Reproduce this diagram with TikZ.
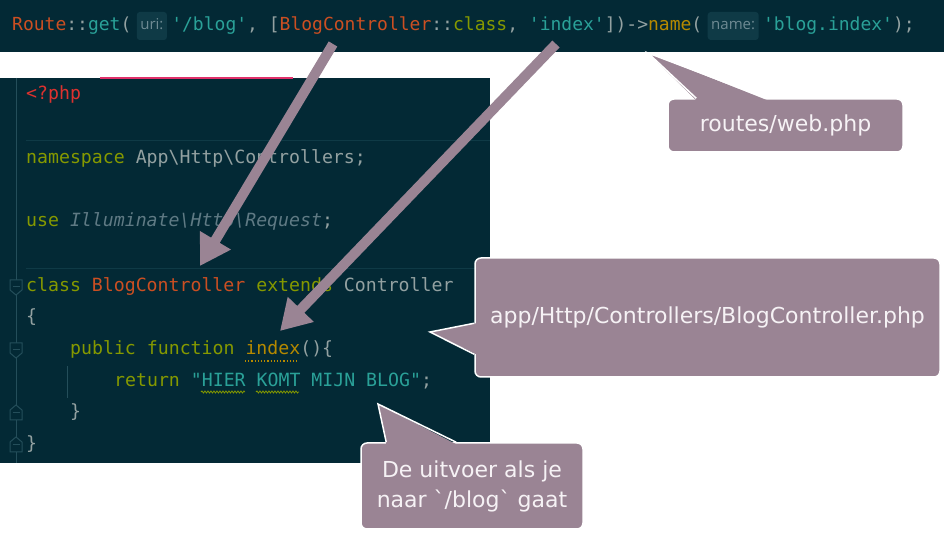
\documentclass[tikz,border=0pt]{standalone}
\usepackage{fontspec}
\setmonofont{DejaVu Sans Mono}
\newfontfamily\notefont{DejaVu Sans}[Ligatures=TeXOff]
\newfontfamily\hintfont{Open Sans}
\usetikzlibrary{positioning, arrows.meta, calc, decorations.pathmorphing}

\definecolor{codebg}{HTML}{032935}
\definecolor{codeorange}{HTML}{CB4F22}
\definecolor{codeteal}{HTML}{2AA198}
\definecolor{codegreen}{HTML}{859900}
\definecolor{codeyellow}{HTML}{B58900}
\definecolor{codered}{HTML}{DC322F}
\definecolor{codegrey}{HTML}{93A1A1}
\definecolor{codeitalic}{HTML}{5F7A84}
\definecolor{hintbg}{HTML}{0F3A46}
\definecolor{hinttext}{HTML}{6E8A93}
\definecolor{gutterline}{HTML}{244E5A}
\definecolor{calloutfill}{HTML}{9A8494}
\definecolor{callouttext}{HTML}{F6F2F5}
\definecolor{tabpink}{HTML}{E0306A}

\newcommand{\tO}[1]{\textcolor{codeorange}{#1}}
\newcommand{\tT}[1]{\textcolor{codeteal}{#1}}
\newcommand{\tL}[1]{\textcolor{codegreen}{#1}}
\newcommand{\tY}[1]{\textcolor{codeyellow}{#1}}
\newcommand{\tG}[1]{\textcolor{codegrey}{#1}}
\newcommand{\tI}[1]{\textcolor{codeitalic}{\itshape #1}}
\newcommand{\bs}{\textbackslash}

\begin{document}
\begin{tikzpicture}[
		x=1pt, y=-1pt,
		>=Stealth,
		code/.style={inner sep=0pt, anchor=west, text height=13pt, text depth=4pt,
			font=\ttfamily\fontsize{18.2}{20}\selectfont, text=codegrey},
		topcode/.style={code, font=\ttfamily\fontsize{18}{20}\selectfont},
		hint/.style={fill=hintbg, rounded corners=3pt, inner xsep=3.5pt, inner ysep=0pt,
			minimum height=28pt, text height=11pt, text depth=3pt,
			font=\hintfont\fontsize{15}{17}\selectfont, text=hinttext},
		callout/.style={fill=calloutfill, draw=white, line width=1.5pt, rounded corners=6pt,
			align=center, text=callouttext, font=\notefont\fontsize{22}{30}\selectfont},
		pointer/.style={draw=calloutfill, line width=10pt, -{Triangle[length=30pt, width=34pt]}},
		gutter/.style={draw=gutterline, line width=1pt}
		]
		\useasboundingbox (0,0) rectangle (946,534);
		
		% ==========================================
		% ROUTE LINE (routes/web.php)
		% ==========================================
		\fill[codebg] (0,0) rectangle (944,52);
		
		\node[topcode] (getcall) at (12,26) {\tO{Route}::\tT{get}(};
		\node[hint, right=5pt of getcall] (urihint) {uri:};
		\node[topcode, right=4pt of urihint] (action)
			{\tT{'/blog'}, [\tO{BlogController}::\tL{class}, \tT{'index'}])->\tY{name}(};
		\node[hint, right=5pt of action] (namehint) {name:};
		\node[topcode, right=4pt of namehint] (routename) {\tT{'blog.index'});};
		
		% ==========================================
		% CONTROLLER FILE
		% ==========================================
		\fill[codebg] (0,78) rectangle (490,463);
		\draw[tabpink, line width=2pt] (100,78) -- (293,78);
		\draw[gutter] (16,78) -- (16,463);
		\draw[hintbg, line width=1pt] (26,141) -- (490,141);
		\draw[hintbg, line width=1pt] (26,269) -- (490,269);
		\draw[gutter] (67,366) -- (67,398);
		
		% fold markers
		\foreach \y/\d in {287/1, 350/1, 413/-1, 445/-1}{
			\filldraw[gutter, fill=codebg] (10,\y-7*\d) -- (22,\y-7*\d) -- (22,\y+3*\d)
				-- (16,\y+8*\d) -- (10,\y+3*\d) -- cycle;
			\draw[gutter] (12.5,\y) -- (19.5,\y);
		}
		
		\node[code] (phptag) at (26,95) {\textcolor{codered}{<?php}};
		\node[code] (nsline) at (26,159) {\tL{namespace} App\bs Http\bs Controllers;};
		\node[code] (useline) at (26,222) {\tL{use} \tI{Illuminate\bs Http\bs Request};};
		\node[code] (classline) at (26,287) {\tL{class} \tO{BlogController} \tL{extends} Controller};
		\node[code] (classopen) at (26,318) {\{};
		\node[code] (funcline) at (70,350) {\tL{public} \tL{function} \tY{index}()\{};
		\node[code] (returnline) at (114,382) {\tL{return} \tT{"HIER KOMT MIJN BLOG"};};
		\node[code] (funcclose) at (70,413) {\}};
		\node[code] (classclose) at (26,445) {\}};
		
		% editor marks
		\draw[codeyellow, line width=1.2pt, dotted] (245,361) -- (299,361);
		\draw[codegreen, line width=0.8pt, decorate, decoration={snake, amplitude=1pt, segment length=3pt}]
			(201,392) -- (245,392);
		\draw[codegreen, line width=0.8pt, decorate, decoration={snake, amplitude=1pt, segment length=3pt}]
			(256,392) -- (299,392);
		
		% ==========================================
		% CALLOUTS
		% ==========================================
		\node[callout, minimum width=235pt, minimum height=53pt] (webnote) at (785.5,125.5) {routes/web.php};
		\coordinate (webtip) at (648,53);
		\fill[calloutfill] ($(webnote.north west)+(29,2)$) -- (webtip) -- ($(webnote.north west)+(100,2)$) -- cycle;
		\draw[white, line width=1.5pt] ($(webnote.north west)+(29,0)$) -- (webtip) -- ($(webnote.north west)+(100,0)$);
		
		\node[callout, minimum width=465pt, minimum height=119pt] (ctrlnote) at (707.5,317.5)
			{app/Http/Controllers/BlogController.php};
		\coordinate (ctrltip) at (430,332);
		\fill[calloutfill] ($(ctrlnote.north west)+(2,66)$) -- (ctrltip) -- ($(ctrlnote.north west)+(2,97)$) -- cycle;
		\draw[white, line width=1.5pt] ($(ctrlnote.north west)+(0,66)$) -- (ctrltip) -- ($(ctrlnote.north west)+(0,97)$);
		
		\node[callout, minimum width=222pt, minimum height=86pt] (outnote) at (472,486)
			{De uitvoer als je\\naar `/blog` gaat};
		\coordinate (outtip) at (378,404);
		\fill[calloutfill] ($(outnote.north west)+(26,2)$) -- (outtip) -- ($(outnote.north west)+(96,2)$) -- cycle;
		\draw[white, line width=1.5pt] ($(outnote.north west)+(26,0)$) -- (outtip) -- ($(outnote.north west)+(96,0)$);
		
		% ==========================================
		% ARROWS
		% ==========================================
		\coordinate (classfrom) at (333,44);
		\coordinate (classto) at (200,266);
		\coordinate (indexfrom) at (556,44);
		\coordinate (indexto) at (280,331);
		\draw[pointer] (classfrom) -- (classto);
		\draw[pointer] (indexfrom) -- (indexto);
		
	\end{tikzpicture}
\end{document}
